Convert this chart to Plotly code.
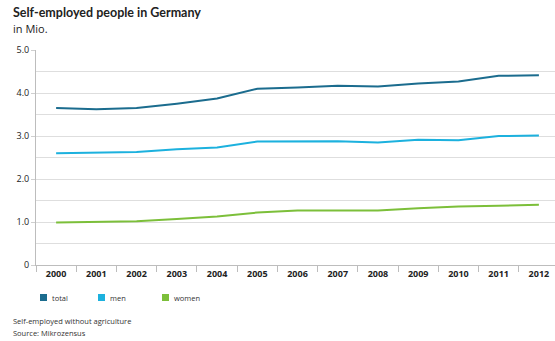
import plotly.graph_objects as go

years = [str(y) for y in range(2000, 2013)]
total = [3.65, 3.62, 3.65, 3.75, 3.87, 4.10, 4.13, 4.17, 4.15, 4.22, 4.27, 4.40, 4.41]
men = [2.60, 2.61, 2.63, 2.69, 2.73, 2.87, 2.87, 2.88, 2.85, 2.91, 2.90, 3.00, 3.01]
women = [0.99, 1.00, 1.02, 1.07, 1.13, 1.22, 1.27, 1.27, 1.27, 1.32, 1.36, 1.38, 1.40]
series_names = ["total", "men", "women"]
colors = ["#1b6c8e", "#1cb1de", "#7cbf3a"]
ytick_vals = [0, 1, 2, 3, 4, 5]
ytick_text = ["0", "1.0", "2.0", "3.0", "4.0", "5.0"]

W, H = 555, 341
L, R, T, B = 36, 0, 50, 341 - 265
pw, ph = W - L - R, H - T - B

def px(x):
    return (x - L) / pw

def py(y):
    return 1 - (y - T) / ph

fig = go.Figure()
for name, vals, c in zip(series_names, [total, men, women], colors):
    fig.add_trace(go.Scatter(x=years, y=vals, mode="lines", name=name,
                             line=dict(color=c, width=2), showlegend=False))

font = "Open Sans"
fig.update_layout(
    width=W, height=H,
    margin=dict(l=L, r=R, t=T, b=B),
    paper_bgcolor="white", plot_bgcolor="white",
    font=dict(family=font, color="#222222"),
    xaxis=dict(type="category", range=[-0.5, 12.4], showgrid=False,
               showline=True, linecolor="#bdbdbd", linewidth=1,
               ticks="outside", tickson="boundaries", ticklen=6, tickcolor="#bdbdbd",
               tickfont=dict(size=9, family=font, color="#222222", weight="bold")),
    yaxis=dict(range=[0, 5], tickvals=ytick_vals, ticktext=ytick_text,
               showgrid=True, gridcolor="#dedede", gridwidth=1,
               showline=True, linecolor="#bdbdbd", linewidth=1,
               ticks="outside", ticklen=4, tickcolor="#cfcfcf",
               zeroline=False,
               minor=dict(dtick=0.5, showgrid=True, gridcolor="#dedede", ticks=""),
               tickfont=dict(size=9, family=font, color="#222222")),
)

fig.add_annotation(text="<b>Self-employed people in Germany</b>", xref="paper", yref="paper",
                   x=px(11), y=py(12), xanchor="left", yanchor="middle", showarrow=False,
                   font=dict(size=12.5, family="Lato", color="#222222"))
fig.add_annotation(text="in Mio.", xref="paper", yref="paper",
                   x=px(11), y=py(29), xanchor="left", yanchor="middle", showarrow=False,
                   font=dict(size=11, family=font, color="#222222"))

leg_x = [40, 98, 162]
leg_y = 297
for name, c, lx in zip(series_names, colors, leg_x):
    fig.add_shape(type="rect", xref="paper", yref="paper",
                  x0=px(lx), x1=px(lx + 7), y0=py(leg_y + 4), y1=py(leg_y - 3),
                  fillcolor=c, line=dict(width=0))
    fig.add_annotation(text=name, xref="paper", yref="paper", x=px(lx + 10), y=py(leg_y + 1),
                       xanchor="left", yanchor="middle", showarrow=False,
                       font=dict(size=7.5, family=font, color="#333333"))

fig.add_annotation(text="Self-employed without agriculture", xref="paper", yref="paper",
                   x=px(11), y=py(321), xanchor="left", yanchor="middle", showarrow=False,
                   font=dict(size=7.5, family=font, color="#333333"))
fig.add_annotation(text="Source: Mikrozensus", xref="paper", yref="paper",
                   x=px(11), y=py(333), xanchor="left", yanchor="middle", showarrow=False,
                   font=dict(size=7.5, family=font, color="#333333"))

fig.write_html("out.html", config={"displayModeBar": False},
               post_script="document.body.style.margin='0';document.body.style.overflow='hidden';")
